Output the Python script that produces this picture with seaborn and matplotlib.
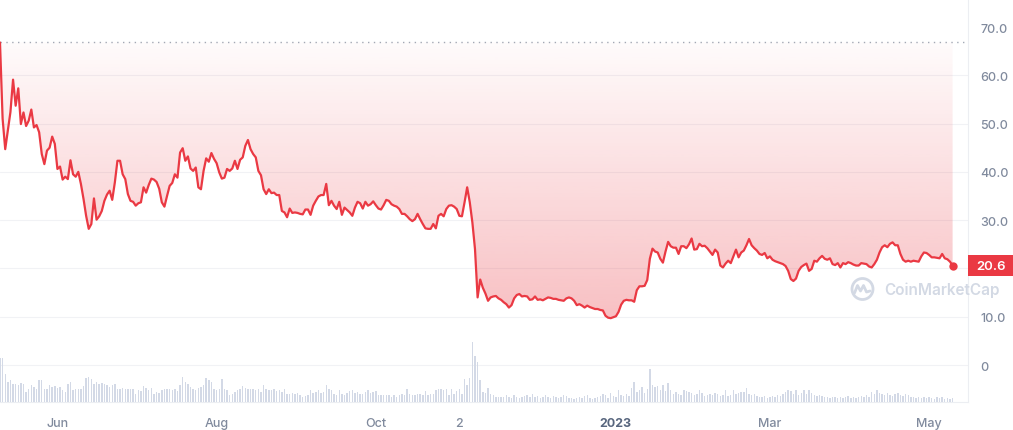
import numpy as np
import pandas as pd
import matplotlib
matplotlib.use("Agg")
import matplotlib.pyplot as plt
import matplotlib.dates as mdates
from matplotlib.colors import to_rgb
from matplotlib.patches import Rectangle, Circle
from matplotlib.lines import Line2D
import seaborn as sns

# ---------------- data ----------------
start_date = "2022-05-10"

prices = [
    66.8, 51.0, 44.7, 48.5, 52.4, 59.1, 53.7, 57.3, 49.9, 52.3,
    49.5, 50.6, 52.9, 49.2, 49.7, 48.2, 43.7, 41.6, 44.4, 45.0,
    47.3, 45.8, 40.6, 41.1, 38.4, 39.0, 38.5, 42.4, 39.5, 39.0,
    40.0, 37.5, 34.4, 30.9, 28.2, 29.2, 34.5, 30.1, 30.8, 31.9,
    34.0, 35.3, 36.1, 34.2, 37.8, 42.3, 42.3, 39.5, 38.5, 35.4,
    34.0, 33.8, 33.0, 33.5, 33.7, 36.8, 35.7, 37.3, 38.6, 38.4,
    37.9, 36.5, 33.7, 32.8, 35.0, 37.1, 37.7, 39.5, 38.8, 44.0,
    44.9, 42.3, 43.2, 40.7, 40.2, 40.9, 36.8, 36.4, 40.2, 42.8,
    42.1, 43.9, 42.7, 41.8, 39.9, 38.6, 38.8, 40.6, 40.2, 40.7,
    42.3, 40.6, 42.5, 43.0, 45.4, 46.6, 44.7, 43.7, 43.0, 40.2,
    39.3, 36.4, 35.4, 36.4, 35.6, 35.7, 35.2, 35.2, 31.9, 31.6,
    30.6, 32.4, 31.5, 31.6, 31.5, 31.3, 31.2, 32.2, 32.2, 31.1,
    33.0, 34.0, 34.9, 35.2, 35.2, 37.5, 33.1, 34.0, 33.0, 32.3,
    33.8, 31.1, 32.6, 32.1, 31.6, 30.9, 32.6, 33.8, 33.5, 32.4,
    33.8, 33.0, 33.3, 33.9, 33.1, 32.4, 32.2, 33.1, 34.2, 34.0,
    33.3, 33.0, 32.8, 32.3, 31.3, 31.3, 30.8, 30.2, 29.8, 30.2,
    31.3, 30.2, 29.2, 28.3, 28.2, 28.2, 29.2, 28.3, 30.9, 31.3,
    30.8, 32.3, 33.0, 33.1, 32.8, 32.3, 30.9, 30.8, 33.7, 36.8,
    33.7, 29.5, 24.0, 14.0, 17.7, 16.0, 14.8, 13.3, 14.0, 14.2,
    14.3, 13.8, 13.5, 13.0, 12.6, 11.9, 12.4, 13.8, 14.5, 14.7,
    14.2, 14.3, 14.2, 13.5, 13.6, 14.2, 13.5, 13.6, 13.4, 13.7,
    14.0, 13.9, 13.7, 13.7, 13.5, 13.4, 13.3, 13.8, 14.0, 13.8,
    13.3, 12.4, 12.6, 12.3, 11.9, 12.3, 12.0, 11.8, 11.6, 11.6,
    11.4, 11.3, 10.2, 9.8, 9.7, 9.9, 10.1, 11.0, 12.5, 13.3,
    13.5, 13.4, 13.4, 13.1, 15.5, 16.3, 16.3, 16.4, 17.6, 22.0,
    24.1, 23.5, 23.3, 22.0, 21.2, 23.5, 25.5, 24.6, 24.3, 24.3,
    23.0, 24.6, 24.6, 24.2, 25.0, 26.2, 23.9, 24.0, 25.1, 24.6,
    24.7, 24.2, 23.5, 22.8, 23.9, 23.3, 20.6, 20.2, 21.0, 21.6,
    21.1, 22.5, 23.9, 22.3, 23.3, 23.7, 24.8, 26.1, 24.8, 24.2,
    23.7, 23.0, 22.8, 23.2, 22.1, 22.5, 21.8, 21.5, 21.3, 21.1,
    20.9, 20.5, 19.5, 17.8, 17.4, 17.9, 19.5, 20.3, 20.7, 21.0,
    19.5, 19.9, 21.6, 21.4, 22.1, 22.6, 22.0, 21.8, 22.1, 20.9,
    20.7, 21.1, 20.2, 21.1, 20.9, 21.3, 21.1, 20.8, 20.6, 20.6,
    21.1, 21.0, 20.9, 20.4, 20.2, 20.9, 21.8, 23.3, 24.4, 24.8,
    24.4, 25.1, 25.4, 24.8, 24.8, 23.0, 21.8, 21.4, 21.6, 21.4,
    21.6, 21.5, 21.4, 22.5, 23.3, 23.2, 22.8, 22.3, 22.3, 22.2,
    22.1, 23.0, 22.1, 21.9, 21.4, 20.6,
]

# relative daily volume (estimated bar heights)
volume_rel = [
    44, 44, 28, 20, 22, 18, 18, 17, 19, 18,
    10, 13, 17, 15, 13, 22, 22, 13, 13, 17,
    15, 16, 14, 15, 12, 10, 18, 20, 12, 13,
    13, 13, 16, 24, 25, 23, 18, 20, 18, 19,
    18, 17, 15, 17, 18, 13, 13, 14, 13, 13,
    13, 13, 8, 12, 11, 16, 14, 12, 14, 8,
    10, 9, 12, 13, 13, 13, 12, 13, 11, 17,
    25, 20, 18, 15, 13, 12, 14, 15, 17, 24,
    22, 20, 13, 12, 13, 23, 13, 12, 7, 8,
    10, 12, 13, 16, 14, 13, 13, 13, 12, 13,
    10, 17, 13, 12, 12, 13, 11, 12, 10, 13,
    8, 8, 9, 8, 9, 7, 5, 6, 7,
    12, 9, 10, 12, 9, 10, 17, 13, 12, 8,
    7, 12, 8, 7, 9, 11, 12, 9, 10, 8,
    8, 10, 12, 9, 10, 11, 7, 7, 7,
    7, 7, 5, 7, 5, 7, 8, 7, 13, 8,
    7, 7, 8, 8, 7, 11, 7, 8, 8,
    12, 13, 13, 12, 13, 7, 13, 8, 11, 13,
    8, 23, 17, 24, 60, 46, 40, 22, 10, 9,
    14, 8, 7, 5, 5, 5, 5, 7, 5, 4, 7, 5, 4,
    5, 6, 7, 5, 8, 5, 6, 4, 5, 7,
    5, 4, 6, 5, 4, 5, 7, 6, 4, 4,
    3, 4, 5, 4, 6, 7, 4, 3, 4, 5,
    6, 8, 7, 4, 9, 6, 5, 12, 7, 6,
    8, 6, 14, 20, 10, 12, 15, 9, 13, 33,
    17, 15, 16, 12, 17, 11, 19, 12, 8, 10,
    8, 7, 12, 11, 10, 9, 7, 8, 12, 9,
    6, 7, 8, 7, 9, 8, 6, 7, 12, 6,
    7, 12, 8, 9, 10, 10, 14, 8, 7, 8,
    6, 5, 5, 6, 4, 5, 6, 5, 7, 6,
    8, 10, 12, 11, 8, 12, 7, 9, 12, 8,
    12, 9, 7, 6, 7, 6, 5, 5, 4, 5,
    5, 4, 5, 4, 5, 6, 4, 5, 4, 5,
    6, 5, 7, 5, 10, 8, 12, 9, 8, 7,
    9, 7, 6, 8, 9, 7, 6, 8, 7, 5,
    5, 4, 5, 4, 5, 4, 5, 4, 3, 5,
    4, 5, 3, 4, 3, 4,
]

baseline_price = 66.8
last_price_label = "20.6"
y_ticks = [0, 10, 20, 30, 40, 50, 60, 70]
# the 20.0 label sits under the red last-price box in the reference
y_tick_labels = ["0", "10.0", "", "30.0", "40.0", "50.0", "60.0", "70.0"]
x_tick_dates = ["2022-06-01", "2022-08-01", "2022-10-01", "2022-11-02",
                "2023-01-01", "2023-03-01", "2023-05-01"]
x_tick_labels = ["Jun", "Aug", "Oct", "2", "2023", "Mar", "May"]
watermark = "CoinMarketCap"

# ---------------- styling ----------------
RED = "#ea3943"
GRAY_TXT = "#808a9d"
GRID = "#f1f2f5"
VOL = "#d3d9e6"

sns.set_theme(style="white")
plt.rcParams["font.family"] = ["Inter", "DejaVu Sans"]

n = len(prices)
dates = pd.date_range(start_date, periods=n, freq="D")
df = pd.DataFrame({"date": dates, "price": prices})
vdf = pd.DataFrame({"date": pd.date_range(start_date, periods=len(volume_rel), freq="D"),
                    "vol": volume_rel})

W, H = 1013, 431
fig = plt.figure(figsize=(W / 100, H / 100), dpi=100)
fig.patch.set_facecolor("white")
ax = fig.add_axes([0, 28 / H, 968 / W, 403 / H])
ax.set_facecolor("none")

# volume bars on twin axis
ax2 = ax.twinx()
ax2.bar(vdf["date"], vdf["vol"], width=0.55, color=VOL, linewidth=0, zorder=1)
ax2.set_ylim(0, 403)
ax2.set_axis_off()

# gridlines
for t in y_ticks[:-1]:
    ax.axhline(t, color=GRID, lw=0.8, zorder=0)

# dotted baseline
ax.axhline(baseline_price, color="#a3aab6", lw=1.0, ls=(0, (1, 3.2)), zorder=2)

# gradient fill between line and baseline
poly = ax.fill_between(df["date"], df["price"], baseline_price, color="none", lw=0)
x0 = mdates.date2num(dates[0])
x1 = mdates.date2num(dates[-1])
pmin = min(prices)
g = np.linspace(0, 1, 256).reshape(-1, 1)
rgba = np.zeros((256, 1, 4))
rgba[..., :3] = to_rgb(RED)
rgba[..., 3] = 0.02 + 0.30 * g[..., 0:1]
im = ax.imshow(rgba, extent=[x0, x1, pmin, baseline_price], aspect="auto",
               origin="upper", zorder=2, interpolation="bilinear")
im.set_clip_path(poly.get_paths()[0], transform=ax.transData)

# price line
sns.lineplot(data=df, x="date", y="price", ax=ax, color=RED, lw=1.6, zorder=4)
ax.scatter([dates[-1]], [prices[-1]], s=36, color=RED, zorder=5, linewidths=0)

# axes limits
ax.set_xlim(x0, x0 + 370.9)
ax.set_ylim(-7.66, 75.8)
ax2.set_xlim(x0, x0 + 370.9)

# y ticks on the right
ax.yaxis.tick_right()
ax.set_yticks(y_ticks)
ax.set_yticklabels(y_tick_labels)
ax.tick_params(axis="y", length=0, pad=9, labelsize=9, labelcolor=GRAY_TXT)
for lab in ax.get_yticklabels():
    lab.set_fontweight("medium")

# x ticks
ax.set_xticks([mdates.date2num(pd.Timestamp(d)) for d in x_tick_dates])
ax.set_xticklabels(x_tick_labels)
ax.tick_params(axis="x", length=3, width=0.8, color="#e3e6ec", pad=8,
               labelsize=9, labelcolor=GRAY_TXT)
for lab in ax.get_xticklabels():
    lab.set_fontweight("medium")
    if lab.get_text() == "2023":
        lab.set_fontweight("bold")
        lab.set_color("#58667e")

ax.set_xlabel("")
ax.set_ylabel("")
for s in ["top", "left"]:
    ax.spines[s].set_visible(False)
ax.spines["right"].set_color("#eceef2")
ax.spines["bottom"].set_color("#eceef2")
ax.spines["right"].set_linewidth(0.8)
ax.spines["bottom"].set_linewidth(0.8)

# last price label box
fig.canvas.draw()
ypix = ax.transData.transform((x1, prices[-1]))[1]
box_h = 21
fig.add_artist(Rectangle((968 / W, (ypix - box_h / 2) / H), 45 / W, box_h / H,
                         transform=fig.transFigure, color=RED, zorder=10, lw=0))
fig.text(990.5 / W, ypix / H, last_price_label, color="white", fontsize=9.5,
         fontweight="semibold", ha="center", va="center", zorder=11)

# watermark
WM = "#d3d9e4"
cy_in = (H - 290) / 100
fig.add_artist(Circle((8.625, cy_in), 0.105, transform=fig.dpi_scale_trans,
                      fill=False, lw=2.0, color=WM, zorder=3))
fig.add_artist(Line2D([8.545, 8.575, 8.605, 8.635, 8.665, 8.70],
                      [cy_in - 0.04, cy_in + 0.035, cy_in - 0.02, cy_in + 0.035, cy_in - 0.03, cy_in - 0.02],
                      transform=fig.dpi_scale_trans, color=WM, lw=2.0, zorder=3,
                      solid_joinstyle="round", solid_capstyle="round"))
fig.text(884 / W, (H - 290) / H, watermark, color=WM, fontsize=11,
         fontweight="semibold", ha="left", va="center", zorder=3)

fig.savefig("out.png", dpi=100, facecolor="white")
